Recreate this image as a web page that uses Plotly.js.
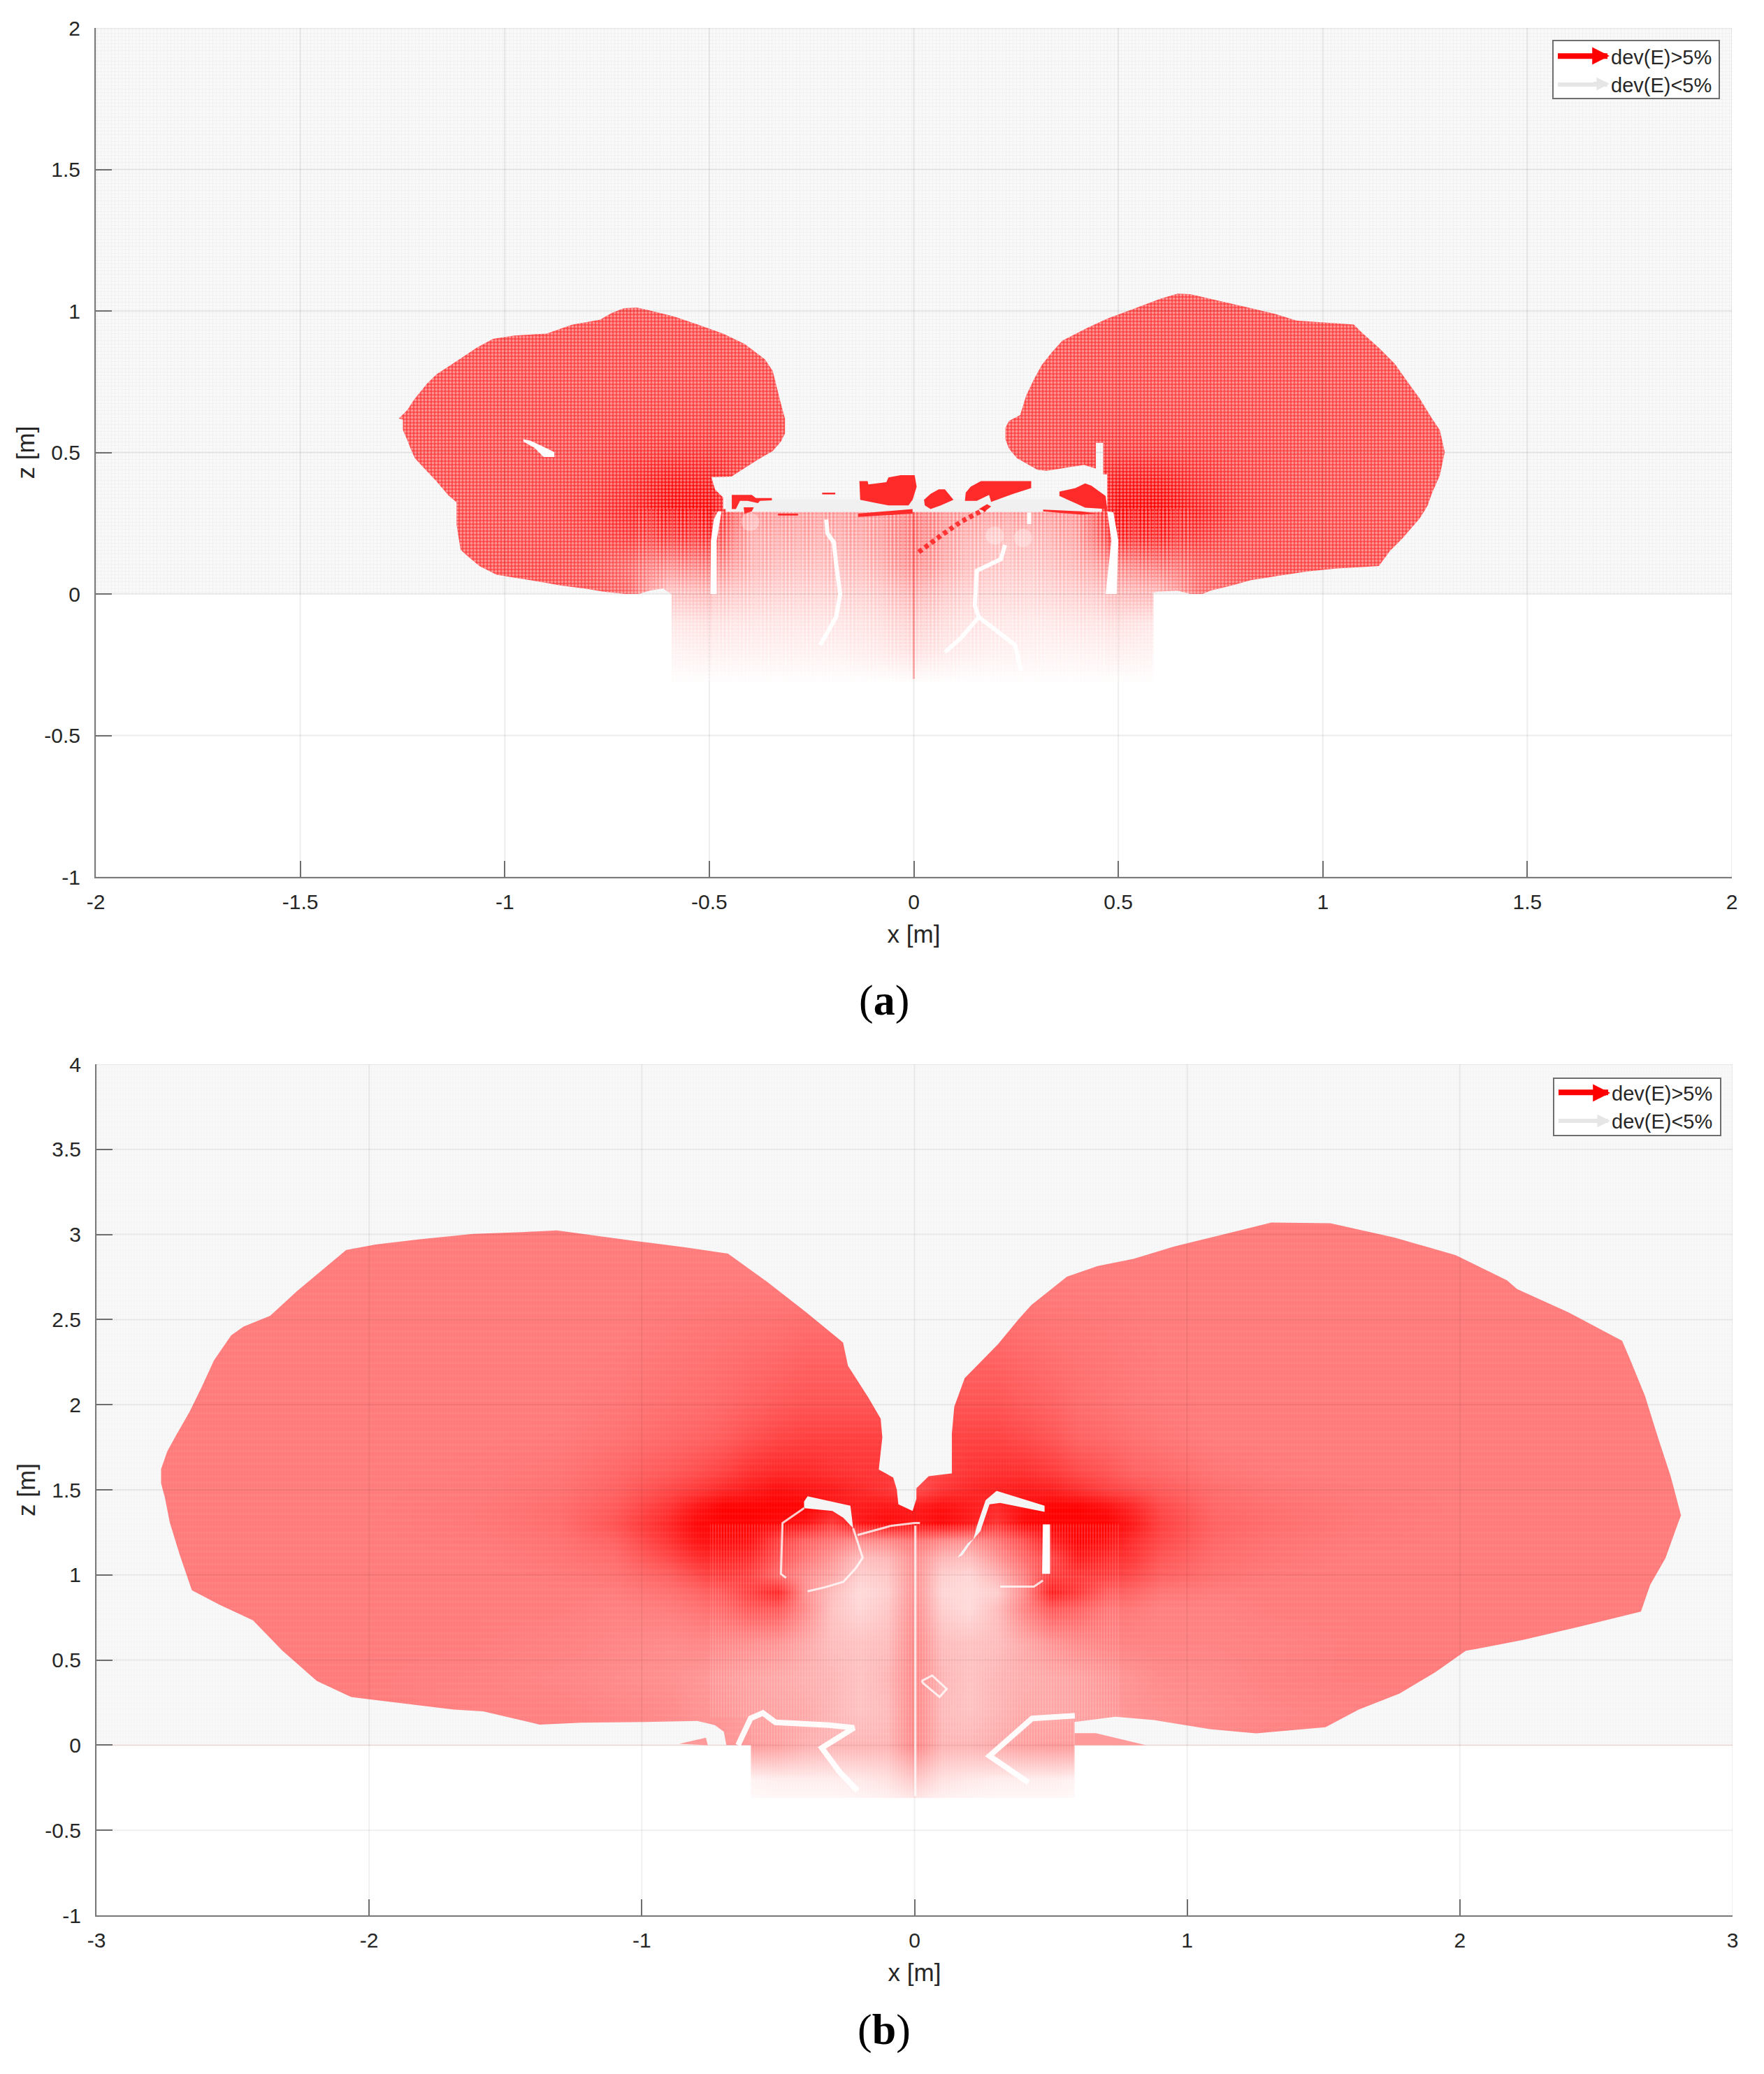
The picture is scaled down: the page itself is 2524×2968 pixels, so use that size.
<!DOCTYPE html>
<html><head><meta charset="utf-8">
<script src="https://cdn.plot.ly/plotly-3.0.1.min.js"></script>
<style>html,body{margin:0;padding:0;background:#fff}</style></head>
<body><div id="chart" style="width:2524px;height:2968px"></div>
<script>
// ---------- tick labels ----------
const xTicksA=[-2,-1.5,-1,-0.5,0,0.5,1,1.5,2];
const xLabelsA=["-2","-1.5","-1","-0.5","0","0.5","1","1.5","2"];
const zTicksA=[-1,-0.5,0,0.5,1,1.5,2];
const zLabelsA=["-1","-0.5","0","0.5","1","1.5","2"];
const xTicksB=[-3,-2,-1,0,1,2,3];
const xLabelsB=["-3","-2","-1","0","1","2","3"];
const zTicksB=[-1,-0.5,0,0.5,1,1.5,2,2.5,3,3.5,4];
const zLabelsB=["-1","-0.5","0","0.5","1","1.5","2","2.5","3","3.5","4"];
const legendNames=["dev(E)>5%","dev(E)<5%"];

// ---------- panel (a): outline of the region with deviation field ---------
const outlineA=[[-1.259,.62],[-1.239,.649],[-1.22,.69],[-1.19,.743],[-1.167,.776],[-1.111,.829],[-1.069,.87],[-1.029,.901],[-.977,.913],[-.898,.92],[-.836,.951],[-.767,.969],[-.738,.993],[-.708,1.01],[-.676,1.012],[-.646,1.002],[-.587,.981],[-.528,.952],[-.466,.92],[-.413,.883],[-.364,.829],[-.345,.788],[-.335,.731],[-.325,.673],[-.315,.62],[-.315,.567],[-.325,.538],[-.345,.505],[-.384,.472],[-.446,.415],[-.495,.413],[-.486,.369],[-.466,.341],[-.466,.3],[-.3,.29],[0,.29],[.3,.29],[.473,.308],[.473,.423],[.463,.423],[.463,.534],[.445,.534],[.445,.443],[.416,.456],[.324,.435],[.302,.439],[.252,.48],[.233,.513],[.224,.546],[.224,.587],[.233,.612],[.26,.632],[.275,.702],[.294,.759],[.313,.809],[.336,.851],[.363,.895],[.424,.94],[.473,.973],[.542,1.01],[.603,1.043],[.645,1.061],[.676,1.059],[.737,1.039],[.824,1.01],[.885,.989],[.935,.966],[.985,.961],[1.076,.952],[1.095,.924],[1.137,.87],[1.176,.813],[1.206,.752],[1.237,.69],[1.267,.62],[1.286,.579],[1.298,.501],[1.286,.419],[1.267,.357],[1.256,.312],[1.237,.267],[1.195,.197],[1.164,.152],[1.137,.099],[1.034,.09],[.966,.08],[.916,.07],[.824,.049],[.775,.029],[.725,.012],[.706,0],[.676,0],[.645,.012],[.592,.008],[.58,0],[-.594,0],[-.613,.02],[-.646,.012],[-.672,0],[-.705,0],[-.758,.008],[-.807,.02],[-.859,.029],[-.938,.049],[-1.02,.068],[-1.062,.099],[-1.092,.135],[-1.108,.156],[-1.118,.246],[-1.118,.324],[-1.138,.349],[-1.167,.398],[-1.21,.464],[-1.22,.48],[-1.229,.509],[-1.239,.546],[-1.249,.579],[-1.249,.616]];
const blockA=[[-.592,0],[-.592,-.31],[.586,-.31],[.586,0]];
const stripesA=[[-.49,.29],[-.49,-.31],[.47,-.31],[.47,.29]];
const flankStripesA=[[[-.68,.3],[-.68,0],[-.5,0],[-.5,.3]],[[.5,.3],[.5,0],[.68,0],[.68,.3]]];
const bandA=[[-.46,.29],[.46,.29],[.46,.335],[-.46,.335]];
const voidA=[[-.955,.546],[-.938,.542],[-.895,.513],[-.879,.501],[-.879,.484],[-.905,.484],[-.928,.517],[-.954,.538]];
const gapLeftA=[[-.497,0],[-.496,.189],[-.489,.263],[-.479,.292],[-.47,.292],[-.482,.189],[-.482,0]];
const gapRightA=[[.473,.292],[.488,.288],[.5,.189],[.496,0],[.469,0],[.483,.189]];
const islandsA=[
 [[-.445,.35],[-.396,.35],[-.386,.339],[-.347,.339],[-.347,.331],[-.376,.329],[-.381,.321],[-.406,.329],[-.425,.329],[-.435,.3],[-.445,.3]],
 [[-.416,.306],[-.391,.306],[-.396,.292],[-.414,.284]],
 [[-.224,.358],[-.192,.358],[-.192,.352],[-.224,.352]],
 [[-.133,.399],[-.113,.399],[-.111,.387],[-.067,.395],[-.062,.412],[-.032,.42],[.002,.42],[.007,.379],[-.003,.333],[-.013,.313],[-.062,.313],[-.091,.321],[-.131,.333]],
 [[.025,.333],[.041,.354],[.061,.37],[.076,.37],[.097,.333],[.066,.313],[.041,.3],[.027,.313]],
 [[.125,.329],[.127,.358],[.139,.379],[.164,.399],[.287,.399],[.287,.374],[.243,.354],[.189,.325],[.184,.35],[.154,.329]],
 [[.356,.362],[.395,.374],[.419,.391],[.434,.383],[.469,.346],[.473,.3],[.419,.305],[.395,.321],[.356,.346]],
 [[.159,.3],[.179,.317],[.189,.309],[.174,.292]],
 [[.316,.298],[.41,.292],[.449,.284],[.41,.28],[.316,.292]],
 [[-.136,.284],[-.003,.3],[-.003,.284],[-.136,.272]],
 [[-.332,.284],[-.283,.284],[-.283,.277],[-.332,.277]]
];
const cracksA=[
 [[-.214,.263],[-.211,.214],[-.195,.181],[-.19,.107],[-.18,0],[-.19,-.082],[-.229,-.181]],
 [[.223,.173],[.213,.123],[.154,.082],[.149,-.041],[.159,-.082],[.115,-.156],[.076,-.206]],
 [[.159,-.082],[.248,-.181],[.262,-.272]],
 [[.282,.288],[.282,.247]]
];
const diagonalA=[[.012,.148],[.066,.206],[.115,.255],[.174,.3]];
const centreLineA=[[0,.29],[0,-.3]];
const ringsA=[[.198,.206],[.267,.198],[-.4,.255]];

// intensity of the field (0 = white, 1 = pure red)
const heatAx=[-1.3,-1.2,-1.1,-1,-.9,-.8,-.7,-.6,-.5,-.4,-.3,-.2,-.1,0,.1,.2,.3,.4,.5,.6,.7,.8,.9,1,1.1,1.2,1.3];
const heatAz=[-.3,-.2,-.1,0,.1,.2,.3,.4,.5,.6,.7,.8,.9,1,1.1];
const heatAv=[
[0,0,0,0,0,0,0,.01,.01,.01,.01,.01,.01,.02,.01,.01,.01,.01,.01,.01,0,0,0,0,0,0,0],
[0,0,0,0,0,0,0,.05,.07,.07,.07,.07,.09,.14,.09,.07,.06,.06,.07,.05,0,0,0,0,0,0,0],
[0,0,0,0,0,0,0,.1,.13,.12,.12,.12,.14,.22,.14,.11,.1,.12,.13,.1,0,0,0,0,0,0,0],
[.72,.72,.72,.72,.72,.7,.62,.24,.28,.22,.2,.2,.22,.34,.22,.18,.18,.22,.28,.3,.58,.66,.7,.72,.72,.72,.72],
[.72,.72,.72,.72,.72,.7,.62,.5,.55,.34,.3,.3,.34,.52,.34,.26,.26,.34,.5,.58,.64,.7,.72,.72,.72,.72,.72],
[.72,.72,.72,.72,.72,.74,.78,.82,.85,.38,.38,.36,.42,.58,.38,.3,.32,.42,.88,.9,.78,.72,.72,.72,.72,.72,.72],
[.72,.72,.72,.72,.73,.78,.86,.98,1,.5,.45,.45,.45,.6,.45,.45,.45,.5,1,1,.88,.78,.74,.72,.72,.72,.72],
[.72,.72,.72,.72,.73,.76,.82,.92,.9,.72,.7,.7,.7,.7,.7,.7,.72,.76,.92,.92,.82,.76,.73,.72,.72,.72,.72],
[.72,.72,.72,.72,.73,.74,.77,.8,.8,.75,.72,.72,.72,.72,.72,.72,.72,.74,.78,.78,.76,.74,.73,.72,.72,.72,.72],
[.72,.72,.72,.72,.72,.73,.74,.75,.75,.74,.72,.72,.72,.72,.72,.72,.72,.73,.74,.74,.73,.73,.72,.72,.72,.72,.72],
[.72,.72,.72,.72,.72,.72,.72,.73,.73,.72,.72,.72,.72,.72,.72,.72,.72,.72,.72,.72,.72,.72,.72,.72,.72,.72,.72],
[.72,.72,.72,.72,.72,.72,.72,.72,.72,.72,.72,.72,.72,.72,.72,.72,.72,.72,.72,.72,.72,.72,.72,.72,.72,.72,.72],
[.72,.72,.72,.72,.72,.72,.72,.72,.72,.72,.72,.72,.72,.72,.72,.72,.72,.72,.72,.72,.72,.72,.72,.72,.72,.72,.72],
[.72,.72,.72,.72,.72,.72,.72,.72,.72,.72,.72,.72,.72,.72,.72,.72,.72,.72,.72,.72,.72,.72,.72,.72,.72,.72,.72],
[.72,.72,.72,.72,.72,.72,.72,.72,.72,.72,.72,.72,.72,.72,.72,.72,.72,.72,.72,.72,.72,.72,.72,.72,.72,.72,.72]
];

// ---------- panel (b) ----------
const outlineB=[[-2.763,1.622],[-2.74,1.727],[-2.704,1.831],[-2.659,1.957],[-2.614,2.103],[-2.569,2.26],[-2.506,2.407],[-2.461,2.459],[-2.363,2.522],[-2.264,2.668],[-2.084,2.909],[-1.977,2.941],[-1.815,2.972],[-1.618,3.003],[-1.438,3.014],[-1.312,3.024],[-1.043,2.966],[-.846,2.926],[-.684,2.888],[-.54,2.721],[-.397,2.543],[-.262,2.365],[-.244,2.229],[-.17,2.044],[-.124,1.918],[-.118,1.808],[-.131,1.619],[-.078,1.572],[-.065,1.502],[-.059,1.415],[-.007,1.376],[.007,1.447],[.007,1.509],[.052,1.58],[.137,1.596],[.137,1.831],[.146,1.988],[.184,2.156],[.306,2.355],[.381,2.501],[.428,2.585],[.559,2.752],[.672,2.815],[.803,2.857],[.953,2.93],[1.141,3.003],[1.309,3.07],[1.525,3.066],[1.76,2.982],[1.985,2.878],[2.173,2.731],[2.21,2.679],[2.398,2.543],[2.595,2.375],[2.623,2.271],[2.679,2.051],[2.726,1.81],[2.773,1.58],[2.811,1.35],[2.801,1.308],[2.754,1.099],[2.698,.942],[2.664,.785],[2.426,.691],[2.229,.617],[2.06,.565],[2.022,.555],[1.91,.429],[1.779,.303],[1.629,.209],[1.507,.105],[1.253,.069],[1.084,.094],[.878,.147],[.737,.167],[.587,.136],[.587,0],[-.69,0],[-.699,.079],[-.732,.118],[-.797,.142],[-.989,.136],[-1.223,.132],[-1.375,.121],[-1.582,.199],[-1.689,.209],[-1.905,.251],[-2.066,.283],[-2.192,.377],[-2.318,.555],[-2.426,.733],[-2.551,.827],[-2.65,.91],[-2.695,1.12],[-2.731,1.308],[-2.749,1.455],[-2.763,1.538]];
const blockB=[[-.6,0],[-.6,-.31],[.587,-.31],[.587,0]];
const stripesB=[[-.75,1.3],[-.75,.16],[-.6,.16],[-.6,-.31],[.587,-.31],[.587,.13],[.75,.16],[.75,1.3]];
const wedgesB=[
 [[-.863,.008],[-.765,.044],[-.758,0]],
 [[.587,.07],[.665,.07],[.85,0],[.587,0]]
];
const arcsB=[
 [[-.405,1.431],[-.392,1.462],[-.235,1.407],[-.225,1.274],[-.261,1.336],[-.301,1.376],[-.405,1.392]],
 [[.216,1.211],[.229,1.289],[.261,1.439],[.301,1.494],[.477,1.407],[.477,1.371],[.314,1.423],[.275,1.415],[.242,1.258],[.209,1.195],[.176,1.116],[.157,1.101],[.196,1.187]]
];
const stripeRightB=[[.471,1.297],[.497,1.297],[.497,1.006],[.468,1.006]];
const thinLinesB=[
 [[-.225,1.274],[-.209,1.195],[-.19,1.101],[-.216,1.038],[-.261,.959],[-.327,.928],[-.392,.904]],
 [[-.405,1.392],[-.484,1.305],[-.49,1.006],[-.471,.983]],
 [[.314,.931],[.438,.931],[.471,.967]],
 [[-.209,1.234],[-.085,1.289],[0,1.305],[.02,1.305]],
 [[.003,1.29],[.003,-.3]],
 [[.026,.377],[.065,.409],[.118,.33],[.092,.283],[.033,.362],[.026,.377]]
];
const cracksB=[
 [[-.647,0],[-.601,.157],[-.556,.189],[-.51,.134],[-.314,.118],[-.222,.102],[-.34,-.016],[-.275,-.157],[-.209,-.267]],
 [[.588,.173],[.431,.157],[.275,-.063],[.418,-.22]]
];
const heatBx=[-2.8,-2.4,-2,-1.6,-1.3,-1.1,-.9,-.8,-.7,-.6,-.5,-.4,-.3,-.2,-.1,0,.1,.2,.3,.4,.5,.6,.7,.8,.9,1.1,1.3,1.6,2,2.4,2.8];
const heatBz=[-.4,-.2,0,.2,.4,.6,.8,.9,1,1.1,1.2,1.3,1.4,1.5,1.6,1.8,2,2.4,2.8,3.2];
const heatBv=[
[0,0,0,0,0,0,0,0,0,0,0,0,0,0,0,0, 0,0,0,0,0,0,0,0,0,0,0,0,0,0,0],
[0,0,0,0,0,0,0,0,0,.05,.07,.07,.07,.09,.12,.22, .12,.09,.07,.07,.07,.05,0,0,0,0,0,0,0,0,0],
[.5,.5,.5,.5,.5,.5,.45,.44,.42,.4,.38,.32,.3,.3,.3,.48, .3,.3,.34,.38,.4,.4,.4,.42,.45,.48,.5,.5,.5,.5,.5],
[.52,.52,.52,.5,.5,.48,.46,.43,.42,.38,.37,.35,.3,.25,.28,.48, .28,.25,.3,.35,.35,.37,.4,.43,.44,.46,.48,.5,.52,.52,.52],
[.52,.52,.52,.5,.48,.46,.44,.42,.4,.37,.35,.32,.3,.25,.3,.48, .3,.25,.3,.33,.35,.37,.41,.43,.46,.47,.5,.52,.52,.52,.52],
[.52,.52,.52,.52,.5,.48,.46,.47,.47,.45,.43,.35,.27,.25,.27,.48, .27,.25,.27,.35,.43,.47,.49,.49,.49,.49,.5,.52,.52,.52,.52],
[.52,.52,.52,.52,.52,.5,.52,.55,.6,.67,.67,.47,.25,.17,.23,.46, .2,.15,.27,.5,.67,.63,.55,.53,.5,.5,.52,.52,.52,.52,.52],
[.52,.52,.52,.52,.52,.52,.56,.6,.67,.77,.87,.45,.27,.15,.2,.44, .17,.15,.2,.47,.9,.8,.65,.6,.54,.52,.52,.52,.52,.52,.52],
[.52,.52,.52,.52,.53,.55,.62,.7,.78,.75,.6,.45,.35,.2,.23,.44, .2,.17,.3,.5,.77,.8,.77,.7,.62,.56,.53,.52,.52,.52,.52],
[.52,.52,.52,.52,.55,.58,.72,.82,.88,.85,.7,.55,.43,.27,.3,.46, .3,.27,.43,.6,.75,.92,.85,.78,.67,.58,.55,.52,.52,.52,.52],
[.52,.52,.52,.53,.56,.62,.8,.92,.97,.95,.77,.63,.55,.45,.47,.56, .47,.43,.55,.7,.9,1,.95,.82,.72,.6,.56,.53,.52,.52,.52],
[.52,.52,.52,.54,.58,.68,.85,.97,1,1,.97,.92,.77,.92,.97,.93, .97,.9,.8,.97,1,1,1,.9,.75,.62,.58,.54,.52,.52,.52],
[.52,.52,.52,.54,.58,.65,.8,.92,1,1,1,1,.9,.9,.92,.9, .95,.9,.85,.95,1,1,.95,.85,.72,.6,.57,.54,.52,.52,.52],
[.52,.52,.52,.53,.56,.62,.72,.78,.85,.9,.95,.92,.9,.85,.8,.7, .8,.85,.88,.9,.88,.82,.75,.7,.65,.58,.55,.53,.52,.52,.52],
[.52,.52,.52,.53,.55,.6,.66,.7,.75,.82,.85,.85,.82,.8,.8,.7, .75,.8,.82,.82,.78,.72,.68,.62,.6,.55,.53,.52,.52,.52,.52],
[.52,.52,.52,.52,.53,.56,.6,.62,.65,.7,.74,.76,.76,.76,.76,.7, .74,.75,.75,.72,.68,.62,.6,.57,.55,.52,.52,.52,.52,.52,.52],
[.52,.52,.52,.52,.52,.54,.57,.58,.6,.63,.66,.68,.68,.68,.68,.68, .68,.68,.68,.65,.62,.58,.56,.54,.53,.52,.52,.52,.52,.52,.52],
[.52,.52,.52,.52,.52,.52,.54,.55,.56,.57,.58,.6,.6,.6,.6,.6, .6,.6,.6,.58,.56,.55,.54,.53,.52,.52,.52,.52,.52,.52,.52],
[.52,.52,.52,.52,.52,.52,.52,.52,.52,.52,.52,.52,.52,.52,.52,.52, .52,.52,.52,.52,.52,.52,.52,.52,.52,.52,.52,.52,.52,.52,.52],
[.52,.52,.52,.52,.52,.52,.52,.52,.52,.52,.52,.52,.52,.52,.52,.52, .52,.52,.52,.52,.52,.52,.52,.52,.52,.52,.52,.52,.52,.52,.52]
];

// ---------- helpers ----------
const W=2524,H=2968;
const FONT='"Liberation Sans", Arial, sans-serif', INK='#262626';
const AXA={l:137,r:2478,t:40,b:1255}, AXB={l:138,r:2479,t:1523,b:2741};
const rangeAx=[-2,2],rangeAz=[-1,2],rangeBx=[-3,3],rangeBz=[-1,4];
function xs(p){return p.map(d=>d[0]);}
function zs(p){return p.map(d=>d[1]);}
function join(list){const o=[];list.forEach((p,i)=>{if(i)o.push([null,null]);p.forEach(d=>o.push(d));o.push(p[0]);});return o;}
function joinOpen(list){const o=[];list.forEach((p,i)=>{if(i)o.push([null,null]);p.forEach(d=>o.push(d));});return o;}
function rect(x0,x1,z0,z1){return [[x0,z0],[x1,z0],[x1,z1],[x0,z1]];}
function hole(outer,inner){return join([outer,inner]);}
function rev(p){return p.slice().reverse();}
function poly(path,ax,opts){return Object.assign({type:'scatter',x:xs(path),y:zs(path),xaxis:ax[0],yaxis:ax[1],mode:'none',fill:'toself',hoverinfo:'skip',showlegend:false},opts);}
function pattern(shape,size,solidity,fg){return {shape:shape,size:size,solidity:solidity,fgcolor:fg,bgcolor:'rgba(0,0,0,0)',fillmode:'overlay'};}
function line(path,ax,color,width,extra){return {type:'scatter',x:xs(path),y:zs(path),xaxis:ax[0],yaxis:ax[1],mode:'lines',line:Object.assign({color:color,width:width,simplify:false},extra||{}),hoverinfo:'skip',showlegend:false};}
function gridPath(xT,zT,xR,zR){const o=[];xT.forEach(v=>{o.push([v,zR[0]],[v,zR[1]],[null,null]);});zT.forEach(v=>{o.push([xR[0],v],[xR[1],v],[null,null]);});return o;}
function heat(x,z,v,ax){return {type:'heatmap',x:x,y:z,z:v,xaxis:ax[0],yaxis:ax[1],zmin:0,zmax:1,zsmooth:'best',showscale:false,hoverinfo:'skip',colorscale:[[0,'#ffffff'],[1,'#ff0000']]};}
function legendItem(name,color,width,ax,lg){return {type:'scatter',x:[null],y:[null],name:name,xaxis:ax[0],yaxis:ax[1],mode:'lines',line:{color:color,width:width},legend:lg,showlegend:true,hoverinfo:'skip'};}

const A=['x','y'],B=['x2','y2'];
const CLEAR='rgba(0,0,0,0)';
const bgDotA={shape:'+',size:5,solidity:.35,fgcolor:'#eaeaea',bgcolor:'#f9f9f9',fillmode:'overlay'};
const bgDotB={shape:'+',size:4,solidity:.4,fgcolor:'#f2f2f2',bgcolor:'#f8f8f8',fillmode:'overlay'};
const traces=[
 heat(heatAx,heatAz,heatAv,A),
 poly(hole(rect(-2,2,0,2),outlineA),A,{fillcolor:'#f4f4f4',fillpattern:bgDotA}),
 poly(hole(rect(-2,2,-1,0),rev(blockA)),A,{fillcolor:'#ffffff'}),
 line(gridPath(xTicksA,zTicksA,rangeAx,rangeAz),A,'rgba(0,0,0,0.07)',2),
 poly(bandA,A,{fillcolor:'#f0f0f0'}),
 poly(join([outlineA,blockA]),A,{fillcolor:CLEAR,fillpattern:pattern('.',5,.45,'rgba(255,255,255,0.8)')}),
 poly(join(flankStripesA),A,{fillcolor:CLEAR,fillpattern:pattern('|',6,.35,'rgba(255,255,255,0.35)')}),
 poly(stripesA,A,{fillcolor:CLEAR,fillpattern:pattern('|',6,.4,'rgba(255,255,255,0.55)')}),
 poly(join(islandsA),A,{fillcolor:'#ff2a2a'}),
 poly(voidA,A,{fillcolor:'#ffffff'}),
 poly(join([gapLeftA,gapRightA]),A,{fillcolor:'#ffffff'}),
 line(joinOpen(cracksA),A,'rgba(255,255,255,0.95)',6),
 line(diagonalA,A,'rgba(255,20,20,0.8)',7,{dash:'6px,5px'}),
 line(centreLineA,A,'rgba(255,60,60,0.35)',3),
 {type:'scatter',x:xs(ringsA),y:zs(ringsA),xaxis:'x',yaxis:'y',mode:'markers',marker:{size:26,color:'rgba(255,255,255,0.3)'},hoverinfo:'skip',showlegend:false},
 legendItem(legendNames[0],'#ff0000',8,A,'legend'),
 legendItem(legendNames[1],'#e6e6e6',6,A,'legend'),

 heat(heatBx,heatBz,heatBv,B),
 poly(hole(rect(-3,3,0,4),outlineB),B,{fillcolor:'#f6f6f6',fillpattern:bgDotB}),
 poly(hole(rect(-3,3,-1,0),rev(blockB)),B,{fillcolor:'#ffffff'}),
 line(gridPath(xTicksB,zTicksB,rangeBx,rangeBz),B,'rgba(0,0,0,0.06)',2),
 poly(outlineB,B,{fillcolor:CLEAR,fillpattern:pattern('|',4,.4,'rgba(255,255,255,0.06)')}),
 poly(outlineB,B,{fillcolor:CLEAR,fillpattern:pattern('-',9,.35,'rgba(255,255,255,0.07)')}),
 poly(stripesB,B,{fillcolor:CLEAR,fillpattern:pattern('|',4,.4,'rgba(255,255,255,0.28)')}),
 poly(join(wedgesB),B,{fillcolor:'#ff9a9a'}),
 poly(join(arcsB),B,{fillcolor:'#f5f5f5'}),
 poly(stripeRightB,B,{fillcolor:'#ffffff'}),
 line(joinOpen(thinLinesB),B,'rgba(255,255,255,0.8)',3),
 line(joinOpen(cracksB),B,'rgba(255,255,255,0.95)',8),
 legendItem(legendNames[0],'#ff0000',8,B,'legend2'),
 legendItem(legendNames[1],'#e6e6e6',6,B,'legend2')
];

function axisBase(range,tv,tt,dom,anchor,title,labelGap,standoff){
 return {range:range,domain:dom,anchor:anchor,tickmode:'array',tickvals:tv,ticktext:tt,
  ticks:'inside',ticklen:23,tickwidth:2,tickcolor:'#6e6e6e',showline:true,linecolor:'#7a7a7a',linewidth:2,mirror:false,
  showgrid:true,gridcolor:'#e6e6e6',gridwidth:2,zeroline:false,automargin:false,ticklabelstandoff:labelGap,
  tickfont:{family:FONT,size:30,color:INK},title:{text:title,standoff:standoff,font:{family:FONT,size:35,color:INK}}};
}
function px(v){return v/W;} function py(v){return 1-v/H;}
function arrow(xEnd,yPx,color,width){return {xref:'paper',yref:'paper',x:px(xEnd),y:py(yPx),axref:'pixel',ayref:'pixel',ax:-26,ay:0,text:' ',showarrow:true,arrowhead:2,arrowsize:.62,arrowwidth:width,arrowcolor:color,standoff:0};}
function legendBox(x0,y0,x1,y1){return {type:'rect',xref:'paper',yref:'paper',x0:px(x0),x1:px(x1),y0:py(y0),y1:py(y1),fillcolor:'#ffffff',line:{color:'#6e6e6e',width:2},layer:'above'};}
function caption(html,yPx){return {xref:'paper',yref:'paper',x:px(1265),y:py(yPx),text:html,showarrow:false,xanchor:'center',yanchor:'middle',font:{family:'"Liberation Serif", serif',size:62,color:'#000'}};}
function legendCfg(xPx,yPx){return {x:px(xPx),y:py(yPx),xanchor:'left',yanchor:'top',bgcolor:CLEAR,borderwidth:0,itemwidth:71,tracegroupgap:0,font:{family:FONT,size:29,color:INK},itemclick:false,itemdoubleclick:false};}

const layout={
 width:W,height:H,margin:{l:0,r:0,t:0,b:0},paper_bgcolor:'#ffffff',plot_bgcolor:'#ffffff',showlegend:true,
 xaxis:axisBase(rangeAx,xTicksA,xLabelsA,[px(AXA.l),px(AXA.r)],'y','x [m]',8,18),
 yaxis:axisBase(rangeAz,zTicksA,zLabelsA,[py(AXA.b),py(AXA.t)],'x','z [m]',14,3),
 xaxis2:axisBase(rangeBx,xTicksB,xLabelsB,[px(AXB.l),px(AXB.r)],'y2','x [m]',8,18),
 yaxis2:axisBase(rangeBz,zTicksB,zLabelsB,[py(AXB.b),py(AXB.t)],'x2','z [m]',14,3),
 legend:legendCfg(2224,55),
 legend2:legendCfg(2225,1538),
 shapes:[legendBox(2222,58,2460,141),legendBox(2223,1543,2462,1625)],
 annotations:[
  arrow(2303,80,'#ff0000',8),arrow(2303,120,'#e6e6e6',6),
  arrow(2304,1564,'#ff0000',8),arrow(2304,1604,'#e6e6e6',6),
  caption('(<b>a</b>)',1431),caption('(<b>b</b>)',2904)
 ]
};
Plotly.newPlot('chart',traces,layout,{staticPlot:true,displayModeBar:false});
</script></body></html>
